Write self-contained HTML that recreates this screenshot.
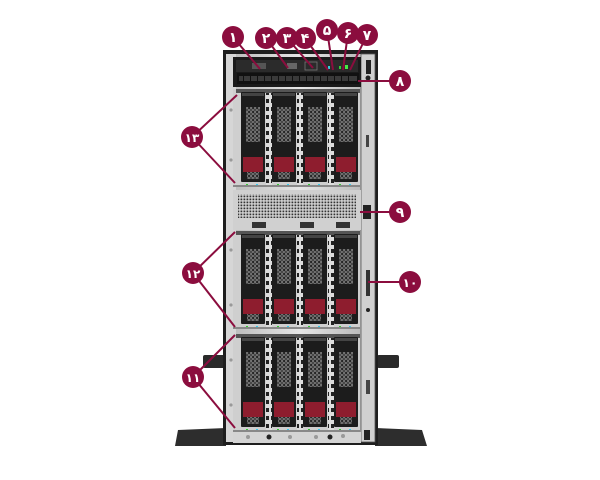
<!DOCTYPE html>
<html><head><meta charset="utf-8"><style>
html,body{margin:0;padding:0;background:#fff;width:600px;height:480px;overflow:hidden}
svg{display:block}
text{font-family:"DejaVu Sans","Liberation Sans",sans-serif;font-weight:bold;fill:#fff;text-anchor:middle}
</style></head><body>
<svg width="600" height="480" viewBox="0 0 600 480" xmlns="http://www.w3.org/2000/svg">
<defs>
<pattern id="hc" width="4" height="4" patternUnits="userSpaceOnUse">
<rect width="4" height="4" fill="#222"/><circle cx="2" cy="2" r="1.3" fill="none" stroke="#bbb" stroke-width="0.6"/>
</pattern>
<pattern id="mesh" width="3" height="3" patternUnits="userSpaceOnUse">
<rect width="3" height="3" fill="#ddd"/><rect x="0.5" y="0.5" width="1.8" height="1.8" fill="#333"/>
</pattern>
<pattern id="sq" width="6" height="8" patternUnits="userSpaceOnUse">
<rect width="6" height="8" fill="#ddd"/><rect x="1" y="2" width="4" height="4" fill="#222"/>
</pattern>
<linearGradient id="sil" x1="0" x2="1"><stop offset="0" stop-color="#b8b8b8"/><stop offset="0.5" stop-color="#e6e6e6"/><stop offset="1" stop-color="#b0b0b0"/></linearGradient>
<g id="drv">
<rect x="0" y="0" width="24" height="90" fill="#1c1c1c" rx="1"/>
<rect x="1" y="1" width="22" height="3" fill="#444"/>
<rect x="5" y="15" width="14" height="35" fill="url(#hc)"/>
<rect x="2" y="65" width="20" height="15" fill="#8e1d2e"/>
<rect x="6" y="80" width="12" height="7" fill="url(#hc)"/>
<rect x="5" y="92" width="2" height="1.5" fill="#3c3"/>
<rect x="15" y="92" width="2" height="1.5" fill="#3ce"/>
</g>
<g id="cage">
<rect x="233" y="0" width="127" height="98" fill="#cfcfcf"/>
<rect x="236" y="0" width="124" height="4" fill="#555"/>
<rect x="266" y="4" width="6" height="92" fill="url(#sq)"/>
<rect x="297" y="4" width="6" height="92" fill="url(#sq)"/>
<rect x="328" y="4" width="6" height="92" fill="url(#sq)"/>
<use href="#drv" x="241" y="3"/>
<use href="#drv" x="272" y="3"/>
<use href="#drv" x="303" y="3"/>
<use href="#drv" x="334" y="3"/>
<rect x="233" y="96" width="127" height="2" fill="#888"/>
</g>
</defs>

<!-- feet -->
<rect x="203" y="355" width="22" height="13" fill="#2a2a2a" rx="2"/>
<rect x="377" y="355" width="22" height="13" fill="#2a2a2a" rx="2"/>
<path d="M178 430 L226 428 L226 446 L175 446 Z" fill="#2d2d2d"/>
<path d="M375 428 L422 430 L427 446 L375 446 Z" fill="#2d2d2d"/>

<!-- chassis -->
<rect x="223" y="50" width="155" height="395" fill="#1e1e1e"/>
<rect x="226" y="54" width="149" height="388" fill="url(#sil)"/>
<rect x="226" y="54" width="10" height="388" fill="#d6d6d6"/>
<rect x="361" y="54" width="14" height="388" fill="#d0d0d0" stroke="#555" stroke-width="0.8"/>
<rect x="366" y="60" width="5" height="14" fill="#222"/>
<circle cx="368" cy="78" r="2.5" fill="#222"/>
<rect x="366" y="135" width="3" height="12" fill="#444"/>
<rect x="363" y="205" width="8" height="14" fill="#222"/>
<rect x="366" y="270" width="4" height="26" fill="#333"/>
<circle cx="368" cy="310" r="2" fill="#222"/>
<rect x="366" y="380" width="4" height="14" fill="#444"/>
<rect x="364" y="430" width="6" height="10" fill="#222"/>
<circle cx="231" cy="110" r="1.6" fill="#999"/><circle cx="231" cy="160" r="1.6" fill="#999"/>
<circle cx="231" cy="250" r="1.6" fill="#999"/><circle cx="231" cy="305" r="1.6" fill="#999"/>
<circle cx="231" cy="360" r="1.6" fill="#999"/><circle cx="231" cy="405" r="1.6" fill="#999"/>

<!-- control panel -->
<rect x="233" y="57" width="128" height="30" fill="#1a1a1a"/>
<rect x="236" y="60" width="122" height="12" fill="#2b2b2b"/>
<rect x="252" y="63" width="14" height="6" fill="#555"/>
<rect x="287" y="63" width="10" height="6" fill="#666"/>
<rect x="305" y="62" width="12" height="8" fill="none" stroke="#777" stroke-width="0.8"/>
<rect x="328" y="66" width="2" height="3" fill="#3cd"/>
<rect x="339" y="66" width="2" height="3" fill="#3c3"/>
<rect x="345" y="65" width="3" height="4" fill="#4e4"/>
<rect x="237" y="73" width="122" height="11" fill="#111"/>
<g fill="#3a3a3a">
<rect x="239" y="76" width="118" height="5"/>
</g>
<g fill="#111"><rect x="243" y="76" width="1" height="5"/><rect x="250" y="76" width="1" height="5"/><rect x="257" y="76" width="1" height="5"/><rect x="264" y="76" width="1" height="5"/><rect x="271" y="76" width="1" height="5"/><rect x="278" y="76" width="1" height="5"/><rect x="285" y="76" width="1" height="5"/><rect x="292" y="76" width="1" height="5"/><rect x="299" y="76" width="1" height="5"/><rect x="306" y="76" width="1" height="5"/><rect x="313" y="76" width="1" height="5"/><rect x="320" y="76" width="1" height="5"/><rect x="327" y="76" width="1" height="5"/><rect x="334" y="76" width="1" height="5"/><rect x="341" y="76" width="1" height="5"/><rect x="348" y="76" width="1" height="5"/></g>

<!-- cages -->
<use href="#cage" y="89"/>
<use href="#cage" y="231"/>
<use href="#cage" y="334"/>

<!-- mesh -->
<rect x="233" y="190" width="128" height="40" fill="#d0d0d0"/>
<rect x="238" y="194" width="118" height="24" fill="url(#mesh)"/>
<rect x="252" y="222" width="14" height="6" fill="#333"/><rect x="300" y="222" width="14" height="6" fill="#333"/><rect x="336" y="222" width="14" height="6" fill="#333"/>

<!-- bottom plate -->
<rect x="233" y="432" width="128" height="11" fill="#d4d4d4"/>
<circle cx="248" cy="437" r="2" fill="#999"/><circle cx="269" cy="437" r="2.5" fill="#222"/><circle cx="290" cy="437" r="2" fill="#999"/><circle cx="316" cy="437" r="2" fill="#999"/><circle cx="330" cy="437" r="2.5" fill="#222"/><circle cx="343" cy="436" r="2" fill="#999"/>

<!-- callout lines -->
<g stroke="#8b0d3e" stroke-width="2" fill="none">
<line x1="233" y1="37" x2="260" y2="69"/>
<line x1="266" y1="38" x2="288" y2="68"/>
<line x1="287" y1="38" x2="313" y2="68"/>
<line x1="305" y1="38" x2="328" y2="70"/>
<line x1="327" y1="30" x2="333" y2="70"/>
<line x1="348" y1="33" x2="343" y2="70"/>
<line x1="367" y1="35" x2="350" y2="70"/>
<line x1="400" y1="81" x2="358" y2="81"/>
<line x1="400" y1="212" x2="360" y2="212"/>
<line x1="410" y1="282" x2="368" y2="282"/>
<line x1="192" y1="137" x2="237" y2="95"/>
<line x1="192" y1="137" x2="235" y2="183"/>
<line x1="193" y1="273" x2="235" y2="232"/>
<line x1="193" y1="273" x2="235" y2="327"/>
<line x1="193" y1="377" x2="235" y2="335"/>
<line x1="193" y1="377" x2="235" y2="428"/>
</g>
<g fill="#8b0d3e">
<circle cx="233" cy="37" r="11"/><circle cx="266" cy="38" r="11"/><circle cx="287" cy="38" r="11"/><circle cx="305" cy="38" r="11"/><circle cx="327" cy="30" r="11"/><circle cx="348" cy="33" r="11"/><circle cx="367" cy="35" r="11"/>
<circle cx="400" cy="81" r="11"/><circle cx="400" cy="212" r="11"/><circle cx="410" cy="282" r="11"/>
<circle cx="192" cy="137" r="11"/><circle cx="193" cy="273" r="11"/><circle cx="193" cy="377" r="11"/>
</g>
<g font-size="14">
<text x="233" y="42">۱</text><text x="266" y="43">۲</text><text x="287" y="43">۳</text><text x="305" y="43">۴</text><text x="327" y="35">۵</text><text x="348" y="38">۶</text><text x="367" y="40">۷</text>
<text x="400" y="86">۸</text><text x="400" y="217">۹</text>
</g>
<g font-size="12">
<text x="410" y="287">۱۰</text>
<text x="192" y="142">۱۳</text><text x="193" y="278">۱۲</text><text x="193" y="382">۱۱</text>
</g>
</svg>
</body></html>
